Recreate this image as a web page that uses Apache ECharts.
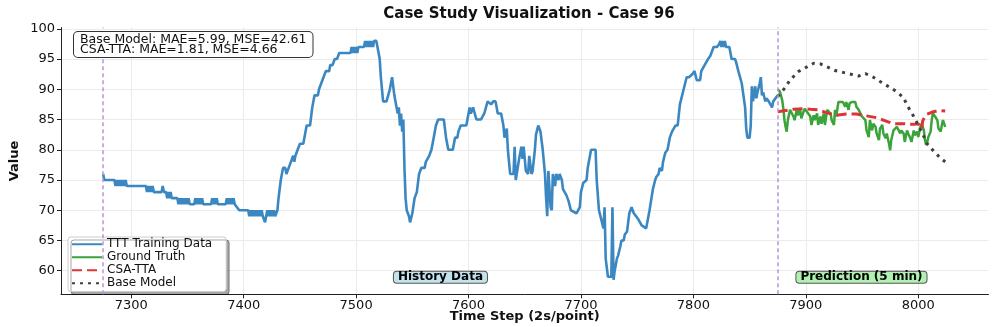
<!DOCTYPE html>
<html>
<head>
<meta charset="utf-8">
<script src="https://cdn.jsdelivr.net/npm/echarts@6/dist/echarts.min.js"></script>
<title>Case 96</title>
<style>
* {margin:0; padding:0;}
body {background:#fff;}
#main {width:996px; height:327px;}
</style>
</head>
<body>
<div id="main"></div>
<script>
// history (TTT training data)
var histSteps = [7275,7276,7285,7286,7287,7288,7289,7290,7291,7292,7293,7294,7295,7296,7313,7314,7315,7316,7317,7318,7319,7320,7327,7328,7329,7331,7332,7333,7334,7335,7336,7337,7341,7342,7343,7344,7345,7346,7347,7348,7349,7350,7351,7352,7356,7357,7358,7359,7360,7361,7362,7363,7364,7371,7372,7373,7374,7375,7376,7377,7384,7385,7386,7387,7388,7389,7390,7391,7392,7396,7404,7405,7406,7407,7408,7409,7410,7411,7412,7413,7414,7415,7416,7417,7419,7420,7421,7422,7423,7424,7425,7426,7427,7428,7430,7431,7433,7435,7437,7438,7440,7442,7444,7445,7446,7448,7450,7453,7454,7456,7459,7461,7463,7466,7467,7469,7471,7473,7476,7477,7479,7481,7483,7485,7495,7496,7497,7498,7499,7500,7501,7502,7507,7508,7509,7510,7511,7512,7513,7514,7515,7516,7518,7519,7521,7522,7524,7527,7530,7532,7534,7536,7537,7538,7539,7540,7541,7542,7543,7544,7545,7547,7548,7550,7552,7554,7556,7558,7561,7562,7565,7567,7569,7571,7573,7578,7580,7582,7586,7588,7590,7591,7593,7598,7601,7602,7604,7607,7611,7614,7617,7620,7622,7624,7626,7629,7631,7632,7634,7635,7637,7640,7641,7642,7645,7647,7648,7649,7651,7653,7654,7656,7657,7659,7660,7662,7664,7666,7668,7669,7670,7671,7673,7674,7675,7677,7678,7680,7681,7683,7684,7687,7689,7691,7696,7699,7700,7702,7705,7706,7709,7713,7714,7715,7716,7718,7720,7721,7722,7723,7724,7727,7728,7729,7730,7732,7733,7735,7736,7738,7739,7741,7743,7745,7747,7749,7751,7754,7758,7761,7764,7766,7767,7769,7770,7772,7773,7775,7777,7779,7781,7784,7786,7788,7790,7792,7794,7796,7799,7801,7803,7806,7807,7810,7813,7815,7818,7821,7823,7824,7825,7826,7827,7828,7829,7832,7834,7837,7838,7840,7843,7844,7846,7847,7848,7850,7851,7852,7853,7855,7856,7857,7859,7860,7861,7862,7864,7865,7867,7868,7870,7871,7873,7875];
var histValues = [76,75,75,74,75,74,75,74,75,74,75,74,75,74,74,73,74,73,74,73,74,73,73,74,73,73,72,73,72,73,72,72,72,71,72,71,72,71,72,71,72,71,72,71,71,72,71,72,71,72,71,72,71,71,72,71,72,71,72,71,71,72,71,72,71,72,71,72,71,70,70,69,70,69,70,69,70,69,70,69,70,69,70,69,68,69,70,69,70,69,70,69,70,69,70,72,75,77,77,76,77,78,79,78,79,80,81,81,82,84,84,87,89,89,90,91,92,93,93,94,94,95,95,96,96,97,96,97,96,97,96,97,97,98,97,98,97,98,97,98,97,98,98,97,95,92,88,88,90,92,89,87,86,87,84,86,83,85,77,72,70,69,68,69.5,72,73,76,77,77,78,79,80,82,84,85,85,82,80,80,82,82,83,84,84,87,86,87,85,85,86,88,87.5,88,88,86,86,84,82,83.5,80,76,76,80.5,75,78.5,80.5,78.5,80.5,76.5,76,79,76,76.5,80,82.5,84,83,80,76,72,69,76.5,70.5,70,76,74,76,75,76,75,73.5,72.5,71.5,70,69.5,70.5,73,74.5,75,77,80,80,75,75,70,68.5,67,70.5,62,62,59,59,70.5,58.5,60,62,62.5,64,65,65,66,66.5,69.5,70.5,69.5,69,68.5,67.5,67,70,73.5,75,75.5,76,77,76.5,78,79.5,80,82,83,84,84,87.5,89,90.5,92,92,92.5,93,91.5,91.5,93,94,95,95.5,97,97,97.5,98,97,98,97,98,97,97,95,95,94.5,93,91,91,87,83.5,82,82,84,90.5,88,90.5,88.5,89.5,91,92,89,89.5,88,88.5,88,88,87,88,88.5,89];

// prediction window
var truthSteps = [7875,7877,7879,7880,7881,7882,7883,7884,7886,7887,7889,7890,7892,7893,7895,7896,7898,7899,7901,7902,7904,7905,7907,7908,7910,7911,7913,7914,7916,7917,7919,7920,7922,7923,7925,7926,7927,7929,7930,7933,7935,7936,7938,7939,7941,7944,7945,7947,7948,7950,7951,7953,7954,7956,7957,7959,7960,7962,7963,7965,7966,7968,7969,7971,7972,7974,7975,7976,7978,7979,7981,7982,7984,7985,7987,7988,7990,7991,7993,7994,7996,7997,7999,8000,8002,8003,8005,8006,8007,8008,8009,8011,8012,8013,8014,8015,8017,8018,8020,8021,8022,8024];
var truthValues = [90,89.6,88.2,86.8,84.9,83.8,83,84.9,86.6,86.8,85.5,84.9,86.6,85.7,86.6,85.2,86.3,86.8,86.3,86.6,85.5,84.1,85.7,84.9,86,84.1,85.5,84.3,86,84.1,86.6,86.8,86,84.9,84.1,86.6,85.5,87.9,87.9,87.9,87.1,87.9,86.6,87.7,87.9,87.9,87.1,86.6,86.8,85.5,85.5,84.9,83.2,82.1,84.9,83.2,84.3,83.8,82.7,81.6,83.5,84.1,82.7,81.9,82.7,81,79.9,81.6,83.2,83,83.8,83.5,82.7,83.2,82.7,81.3,83.2,82.7,81.9,81.3,83.2,82.4,83,82.1,83.8,84.3,83.2,81.6,80.8,81.3,82.1,83,84.9,86,85.7,85.5,84.9,83.5,83,84.1,84.9,83.8];
var csaSteps = [7875,7889,7898,7904,7911,7919,7927,7936,7945,7954,7963,7972,7978,7987,7996,8000,8003,8004,8007,8012,8018,8024];
var csaValues = [86.3,86.7,86.8,86.7,86.6,86.1,85.7,85.9,85.9,85.6,85.3,84.7,84.3,84.3,84.2,84.3,83.5,84.8,85.8,86.2,86.5,86.4];
var baseSteps = [7875,7880,7886,7893,7901,7907,7913,7919,7926,7933,7940,7947,7953,7960,7966,7974,7981,7987,7990,7996,7999,8003,8008,8014,8020,8024];
var baseValues = [88.8,89.9,91.5,92.9,93.7,94.3,94.2,93.7,93.1,92.8,92.5,92.2,92.6,92,91.3,90.4,89.6,88.6,87.4,85.5,84.4,83,81,79.7,78.6,78];

var splitSteps = [7275, 7875];
var xTicks = [7300,7400,7500,7600,7700,7800,7900,8000];
var yTicks = [60,65,70,75,80,85,90,95,100];

function pairs(xs, ys) {
	return xs.map(function (x, i) { return [x, ys[i]]; });
}

var FONT = 'DejaVu Sans';
var chart = echarts.init(document.getElementById('main'));
chart.setOption({
	animation: false,
	backgroundColor: '#fff',
	title: {
		text: 'Case Study Visualization - Case 96',
		left: 524, top: 2, textAlign: 'center',
		textStyle: {fontFamily: FONT, fontSize: 15, fontWeight: 'bold', color: '#111'}
	},
	grid: {left: 61, right: 7.5, top: 27.6, bottom: 32.7, outerBoundsMode: 'none'},
	legend: {
		orient: 'vertical', left: 68, top: 237,
		padding: [1, 14, 2, 3], itemGap: 0.5, itemWidth: 30, itemHeight: 10,
		backgroundColor: '#fff', borderColor: '#cccccc', borderWidth: 1, borderRadius: 3,
		shadowColor: 'rgba(0,0,0,0.35)', shadowOffsetX: 3, shadowOffsetY: 3, shadowBlur: 0.5,
		itemStyle: {opacity: 0},
		textStyle: {fontFamily: FONT, fontSize: 12, color: '#111', lineHeight: 12.5},
		data: ['TTT Training Data', 'Ground Truth', 'CSA-TTA', 'Base Model']
	},
	xAxis: {
		type: 'value', min: 7237.5, max: 8062.5,
		name: 'Time Step (2s/point)', nameLocation: 'middle', nameGap: 16, nameMoveOverlap: false,
		nameTextStyle: {fontFamily: FONT, fontSize: 13, fontWeight: 'bold', color: '#111'},
		axisLine: {onZero: false, lineStyle: {color: '#222', width: 1}},
		axisTick: {customValues: xTicks, length: 4, lineStyle: {color: '#222'}},
		axisLabel: {
			customValues: xTicks, margin: 5, fontFamily: FONT, fontSize: 13, color: '#111',
			formatter: function (v) { return String(v); }
		},
		splitLine: {show: true, lineStyle: {color: '#ebebeb', width: 1}}
	},
	yAxis: {
		type: 'value', min: 56.1, max: 100.2,
		name: 'Value', nameLocation: 'middle', nameGap: 40, nameMoveOverlap: false,
		nameTextStyle: {fontFamily: FONT, fontSize: 13, fontWeight: 'bold', color: '#111'},
		axisLine: {show: true, lineStyle: {color: '#222', width: 1}},
		axisTick: {show: true, customValues: yTicks, length: 4, lineStyle: {color: '#222'}},
		axisLabel: {customValues: yTicks, margin: 6, fontFamily: FONT, fontSize: 13, color: '#111'},
		splitLine: {show: true, lineStyle: {color: '#ebebeb', width: 1}}
	},
	series: [
		{
			name: 'TTT Training Data', type: 'line', data: pairs(histSteps, histValues),
			symbol: 'none', color: '#3a87c2',
			lineStyle: {width: 2.6, color: '#3a87c2'},
			markLine: {
				silent: true, symbol: ['none', 'none'], label: {show: false},
				lineStyle: {color: '#b994d6', type: [4, 3], width: 1.5},
				data: splitSteps.map(function (s) { return {xAxis: s}; })
			}
		},
		{
			name: 'Ground Truth', type: 'line', data: pairs(truthSteps, truthValues),
			symbol: 'none', color: '#3aa33a',
			lineStyle: {width: 2.5, color: '#3aa33a'}
		},
		{
			name: 'CSA-TTA', type: 'line', data: pairs(csaSteps, csaValues),
			symbol: 'none', color: '#dd3535',
			lineStyle: {width: 3, color: '#dd3535', type: [10, 5]}
		},
		{
			name: 'Base Model', type: 'line', data: pairs(baseSteps, baseValues),
			symbol: 'none', color: '#404040',
			lineStyle: {width: 3, color: '#404040', type: [3, 5]}
		}
	]
});

// annotation boxes placed in data space
var histMid = chart.convertToPixel({gridIndex: 0}, [(splitSteps[0] + splitSteps[1]) / 2, 58.9]);
var predMid = chart.convertToPixel({gridIndex: 0}, [(splitSteps[1] + truthSteps[truthSteps.length - 1]) / 2, 58.9]);
chart.setOption({
	graphic: [
		{
			type: 'text', left: 73, top: 31, z: 100,
			style: {
				text: 'Base Model: MAE=5.99, MSE=42.61\nCSA-TTA: MAE=1.81, MSE=4.66',
				font: '12.5px "DejaVu Sans"', fill: '#111', lineHeight: 10.5,
				backgroundColor: '#fff', borderColor: '#333', borderWidth: 1, borderRadius: 4,
				padding: [2, 6, 2, 6]
			}
		},
		{
			type: 'text', x: histMid[0], y: histMid[1], z: 100,
			style: {
				text: 'History Data', font: 'bold 12px "DejaVu Sans"', fill: '#000',
				align: 'center', verticalAlign: 'middle',
				backgroundColor: '#c3e2ec', borderColor: '#555', borderWidth: 1, borderRadius: 3,
				padding: [0, 4, -1, 4]
			}
		},
		{
			type: 'text', x: predMid[0], y: predMid[1], z: 100,
			style: {
				text: 'Prediction (5 min)', font: 'bold 12px "DejaVu Sans"', fill: '#000',
				align: 'center', verticalAlign: 'middle',
				backgroundColor: '#b0f0b0', borderColor: '#555', borderWidth: 1, borderRadius: 3,
				padding: [0, 4, -1, 4]
			}
		}
	]
});
</script>
</body>
</html>
